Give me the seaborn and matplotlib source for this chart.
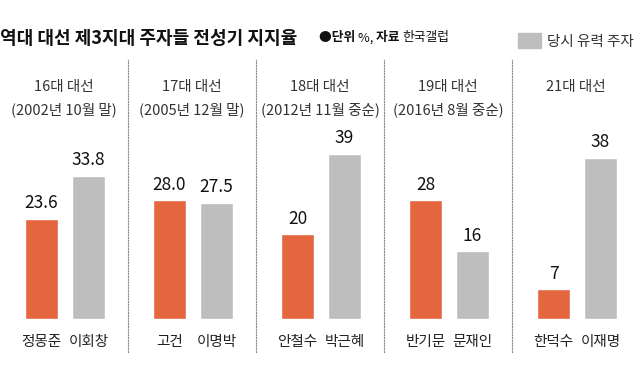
import pandas as pd
import seaborn as sns
import matplotlib.pyplot as plt
from matplotlib.patches import Patch

# data
elections = ["16대 대선", "17대 대선", "18대 대선", "19대 대선", "21대 대선"]
periods = ["(2002년 10월 말)", "(2005년 12월 말)", "(2012년 11월 중순)", "(2016년 8월 중순)", ""]
third_names = ["정몽준", "고건", "안철수", "반기문", "한덕수"]
third_vals = [23.6, 28.0, 20, 28, 7]
lead_names = ["이회창", "이명박", "박근혜", "문재인", "이재명"]
lead_vals = [33.8, 27.5, 39, 16, 38]
decimals = [1, 1, 0, 0, 0]

orange = "#E3663F"
gray = "#BEBEBE"

sns.set_theme(style="white")
plt.rcParams["font.family"] = ["Noto Sans CJK KR", "DejaVu Sans"]

fig = plt.figure(figsize=(6.4, 3.66), dpi=100)

w = 128 / 640
bottom = 14 / 366
height = 292 / 366

axes = []
for i in range(5):
    ax = fig.add_axes([i * w, bottom, w, height])
    axes.append(ax)
    df = pd.DataFrame({
        "name": [third_names[i], lead_names[i]],
        "value": [third_vals[i], lead_vals[i]],
        "role": ["third", "lead"],
    })
    sns.barplot(data=df, x="name", y="value", hue="role",
                palette={"third": orange, "lead": gray},
                dodge=False, width=0.7, legend=False, ax=ax,
                saturation=1)
    ax.set_xlim(-0.883, 1.84)
    ax.set_ylim(-7.8, 61.2)
    ax.set_xticks([])
    ax.set_yticks([])
    ax.set_xlabel("")
    ax.set_ylabel("")
    for s in ["top", "right", "bottom"]:
        ax.spines[s].set_visible(False)
    if i == 0:
        ax.spines["left"].set_visible(False)
    else:
        ax.spines["left"].set_linestyle((0, (1, 1.5)))
        ax.spines["left"].set_color("#8a8a8a")
        ax.spines["left"].set_linewidth(0.8)
    ax.patch.set_alpha(0)

    # value labels and names
    for j, (nm, v) in enumerate(zip(df["name"], df["value"])):
        ax.text(j, v + 1.6, f"{v:.{decimals[i]}f}", ha="center", va="bottom",
                fontsize=12.5, fontweight="medium", color="#111111")
        ax.text(j, -5.4, nm, ha="center", va="center", fontsize=10.5,
                color="#222222")

    ax.text(0.5, 54.8, elections[i], ha="center", va="center", fontsize=10.5,
            color="#333333", transform=ax.get_yaxis_transform())
    if periods[i]:
        ax.text(0.5, 49.4, periods[i], ha="center", va="center", fontsize=10.5,
                color="#333333", transform=ax.get_yaxis_transform())

# title line
ty = 1 - 38 / 366
fig.text(0.0, ty, "역대 대선 제3지대 주자들 전성기 지지율", fontsize=13,
         fontweight="bold", color="#111111", ha="left", va="center")

# subtitle pieces chained one after another
parts = [("●단위 ", "bold"), ("%, ", "normal"), ("자료 ", "bold"), ("한국갤럽", "normal")]
prev = fig.text(319 / 640, ty, parts[0][0], fontsize=9.2, fontweight=parts[0][1],
                color="#111111", ha="left", va="center")
for txt, wt in parts[1:]:
    prev = axes[0].annotate(txt, xy=(1, 0.5), xycoords=prev, ha="left", va="center",
                            fontsize=9.2, fontweight=wt, color="#111111",
                            annotation_clip=False)

fig.legend(handles=[Patch(color=gray)], labels=["당시 유력 주자"],
           loc="center right", bbox_to_anchor=(0.995, 1 - 41 / 366),
           frameon=False, fontsize=10.5, handlelength=1.6, handleheight=1.2,
           handletextpad=0.4, borderaxespad=0, borderpad=0.2,
           labelcolor="#333333")

fig.savefig("out.png", dpi=100)
